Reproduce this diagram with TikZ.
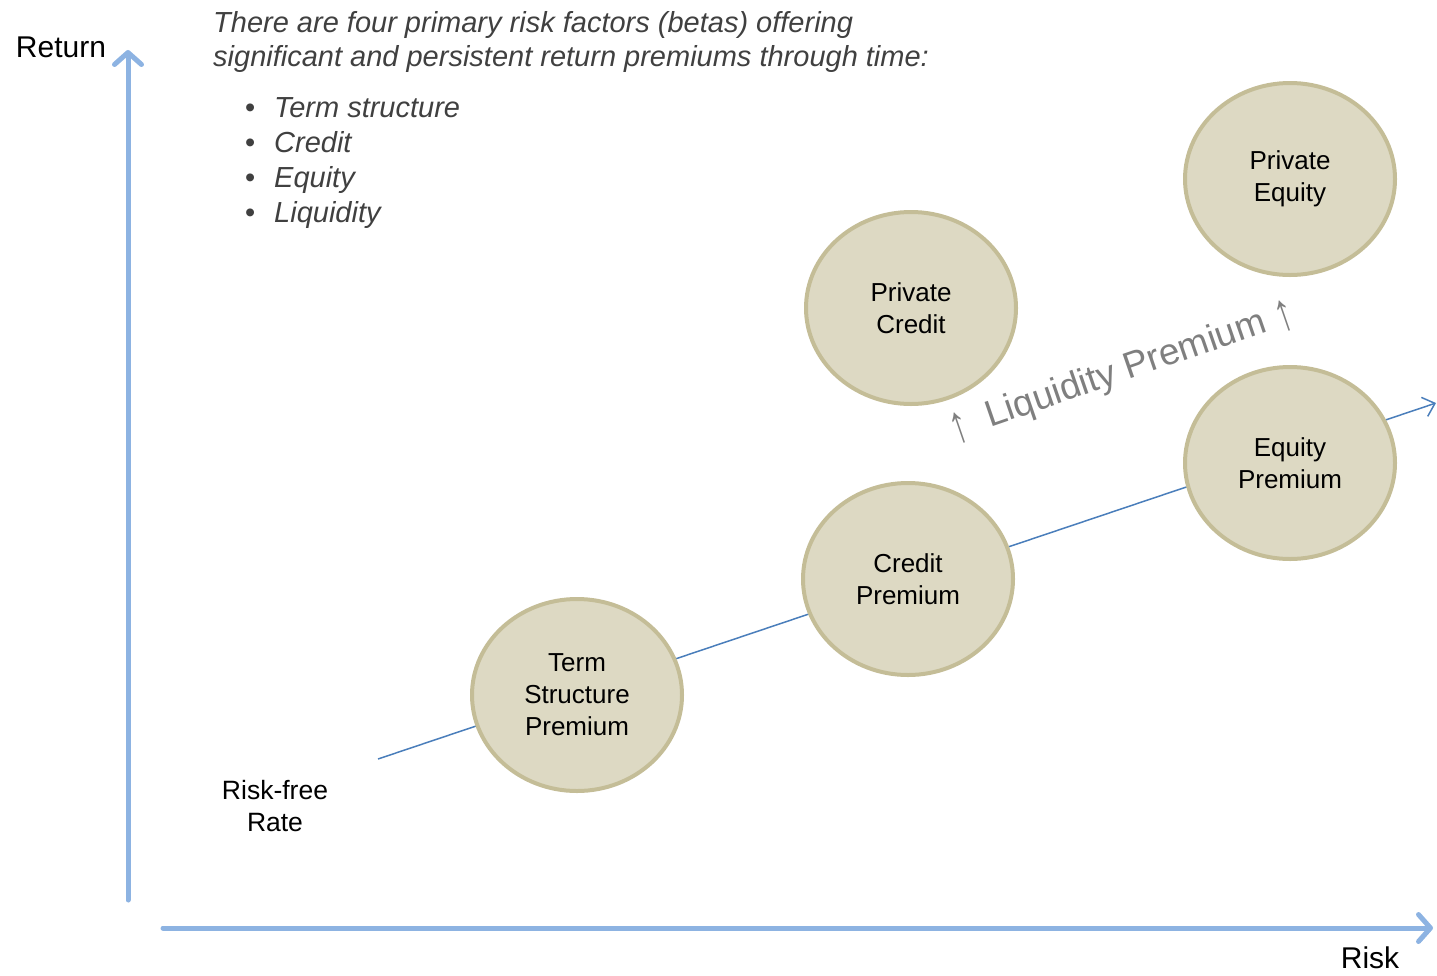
\documentclass[tikz,border=0pt]{standalone}
\usepackage{fontspec}
\setmainfont{Liberation Sans}
\usetikzlibrary{arrows.meta,shapes.geometric}
\definecolor{axisblue}{HTML}{8DB3E2}
\definecolor{lineblue}{HTML}{4A7EBB}
\definecolor{circfill}{HTML}{DDD9C3}
\definecolor{circline}{HTML}{C4BD97}
\definecolor{headgray}{HTML}{404040}
\definecolor{liqgray}{HTML}{7F7F7F}
\newcommand{\uparr}{\raisebox{-0.12em}{\scalebox{1}[1.45]{↑}}}
\tikzset{
  bubble/.style={ellipse, draw=circline, fill=circfill, line width=4pt,
    minimum width=210pt, minimum height=192pt, inner sep=0pt, align=center,
    font=\fontsize{26}{32}\selectfont},
  axis/.style={draw=axisblue, line width=5pt, line cap=round,
    -{Straight Barb[length=12pt,width=27pt,line cap=round,line join=round]}},
  lbl/.style={inner sep=0pt, align=center, font=\fontsize{26.5}{32}\selectfont},
}
\begin{document}
\begin{tikzpicture}[x=1pt,y=-1pt]
\useasboundingbox (0,0) rectangle (1437,975);
% axes
\coordinate (ybot) at (128,900);
\coordinate (ytop) at (128,50);
\coordinate (xl) at (163,928);
\coordinate (xr) at (1433,928);
\draw[axis] (ybot) -- (ytop);
\draw[axis] (xl) -- (xr);
\node[inner sep=0pt, font=\fontsize{30}{36}\selectfont] (ret) at (61,47) {Return};
\node[inner sep=0pt, font=\fontsize{30}{36}\selectfont] (risk) at (1370,958) {Risk};
% trend line
\coordinate (ls) at (378,759);
\coordinate (le) at (1436,403);
\draw[lineblue, line width=1.5pt, -{Straight Barb[length=11pt,width=20pt]}] (ls) -- (le);
% bubbles
\node[bubble] (term) at (577,695) {Term\\Structure\\Premium};
\node[bubble] (cred) at (908,579) {Credit\\Premium};
\node[bubble] (eq) at (1290,463) {Equity\\Premium};
\node[bubble] (pc) at (911,308) {Private\\Credit};
\node[bubble] (pe) at (1290,179) {Private\\Equity};
% risk-free
\node[lbl] (rf) at (275,806) {Risk-free\\Rate};
% liquidity premium
\node[inner sep=0pt, text=liqgray, rotate=19, font=\fontsize{37}{40}\selectfont] (liq) at (1122,372) {\uparr\hspace{0.55em}Liquidity Premium\hspace{0.3em}\uparr};
% header
\node[anchor=north west, inner sep=0pt, align=left, text=headgray,
  font=\fontsize{29}{34.5}\selectfont\itshape] (head) at (213,11)
  {There are four primary risk factors (betas) offering\\significant and persistent return premiums through time:};
\node[anchor=north west, inner sep=0pt, align=left, text=headgray,
  font=\fontsize{29}{35.2}\selectfont] (bul) at (245,97)
  {\textbullet\hspace{0.65em}\textit{Term structure}\\\textbullet\hspace{0.65em}\textit{Credit}\\\textbullet\hspace{0.65em}\textit{Equity}\\\textbullet\hspace{0.65em}\textit{Liquidity}};
\end{tikzpicture}
\end{document}
